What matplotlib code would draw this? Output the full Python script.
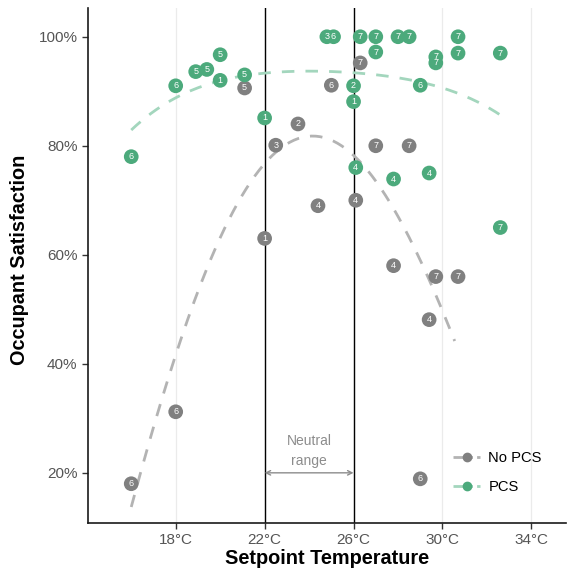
import numpy as np
import matplotlib
matplotlib.use("Agg")
import matplotlib.pyplot as plt
from matplotlib.lines import Line2D

plt.rcParams['font.family'] = ['Liberation Sans', 'DejaVu Sans']

# PCS (green) points
pcs_temp = [16.0, 18.0, 18.9, 19.4, 20.0, 20.0, 21.1, 22.0, 24.8, 25.1, 26.3, 27.0, 27.0,
            28.0, 28.5, 30.7, 30.7, 32.6, 29.7, 29.7, 29.0, 26.0, 26.0, 26.1, 27.8, 29.4, 32.6]
pcs_sat = [78.0, 91.0, 93.6, 94.0, 96.7, 92.0, 93.0, 85.1, 100.0, 100.0, 100.0, 100.0, 97.2,
           100.0, 100.0, 100.0, 97.0, 97.0, 96.3, 95.2, 91.1, 91.0, 88.1, 76.0, 73.9, 75.0, 65.0]
pcs_lab = ['6', '6', '5', '5', '5', '1', '5', '1', '3', '6', '7', '7', '7',
           '7', '7', '7', '7', '7', '7', '7', '6', '2', '1', '4', '4', '4', '7']

# No PCS (grey) points
nopcs_temp = [16.0, 18.0, 21.1, 22.5, 23.5, 22.0, 24.4, 26.1, 26.3, 25.0, 27.0, 28.5,
              27.8, 29.7, 30.7, 29.4, 29.0]
nopcs_sat = [18.0, 31.2, 90.6, 80.1, 84.0, 63.0, 69.0, 70.0, 95.2, 91.1, 80.0, 80.0,
             58.0, 56.0, 56.0, 48.1, 18.9]
nopcs_lab = ['6', '6', '5', '3', '2', '1', '4', '4', '7', '6', '7', '7',
             '4', '7', '7', '4', '6']

# Smoothed trend curves
nopcs_trend_temp = [16.0, 17.5, 20.4, 21.0, 21.9, 23.6, 24.6, 25.4, 26.0, 26.6, 27.4,
                    28.3, 29.0, 30.0, 30.55]
nopcs_trend_sat = [13.5, 35.8, 66.0, 70.5, 76.0, 82.0, 83.2, 80.8, 77.7, 74.0, 70.0,
                   65.0, 60.0, 51.0, 43.0]
pcs_trend_temp = [16.0, 16.8, 17.9, 18.9, 20.7, 22.1, 23.3, 23.9, 25.2, 27.2, 28.1,
                  30.0, 31.1, 32.6]
pcs_trend_sat = [83.1, 85.4, 88.4, 90.6, 92.7, 93.6, 93.6, 93.6, 93.2, 93.0, 92.7,
                 90.6, 88.8, 85.7]

x_ticks = [18, 22, 26, 30, 34]
x_ticklabels = ['18°C', '22°C', '26°C', '30°C', '34°C']
y_ticks = [20, 40, 60, 80, 100]
y_ticklabels = ['20%', '40%', '60%', '80%', '100%']
neutral_range = [22, 26]

green = '#4caa7c'
green_line = '#a3d6bd'
grey = '#808080'
grey_line = '#b3b3b3'


def smooth(tx, ty, deg=4, npts=150):
    c = np.polyfit(tx, ty, deg)
    xs = np.linspace(min(tx), max(tx), npts)
    return xs, np.polyval(c, xs)


fig = plt.figure(figsize=(5.67, 5.73), dpi=100)
ax = fig.add_axes([0.155, 0.0873, 0.843, 0.899])

for t in x_ticks:
    ax.axvline(t, color='#ebebeb', lw=0.9, zorder=0)
for t in neutral_range:
    ax.axvline(t, color='black', lw=1.0, zorder=1)

xx, yy = smooth(nopcs_trend_temp, nopcs_trend_sat)
ax.plot(xx, yy, color=grey_line, lw=2.0, dashes=(4.5, 4), zorder=2)
xx, yy = smooth(pcs_trend_temp, pcs_trend_sat)
ax.plot(xx, yy, color=green_line, lw=2.0, dashes=(4.5, 4), zorder=2)

ax.scatter(nopcs_temp, nopcs_sat, s=112, color=grey, edgecolors='none', zorder=3)
for t, s, l in zip(nopcs_temp, nopcs_sat, nopcs_lab):
    ax.text(t, s, l, color='white', fontsize=6.5, ha='center', va='center', zorder=4)
ax.scatter(pcs_temp, pcs_sat, s=112, color=green, edgecolors='none', zorder=5)
for t, s, l in zip(pcs_temp, pcs_sat, pcs_lab):
    ax.text(t, s, l, color='white', fontsize=6.5, ha='center', va='center', zorder=6)

ax.annotate('', xy=(neutral_range[0], 20), xytext=(neutral_range[1], 20),
            arrowprops=dict(arrowstyle='<->', color='#8c8c8c', lw=1.0,
                            shrinkA=0, shrinkB=0, mutation_scale=8), zorder=2)
ax.text(24, 25.8, 'Neutral', color='#8c8c8c', fontsize=10, ha='center', va='center')
ax.text(24, 22.1, 'range', color='#8c8c8c', fontsize=10, ha='center', va='center')

ax.set_xlim(14.05, 35.55)
ax.set_ylim(10.8, 105.3)
ax.set_xticks(x_ticks)
ax.set_xticklabels(x_ticklabels)
ax.set_yticks(y_ticks)
ax.set_yticklabels(y_ticklabels)
ax.tick_params(axis='both', labelsize=11, labelcolor='#555555', color='#333333',
               length=4, width=1.0)
for side in ['top', 'right']:
    ax.spines[side].set_visible(False)
for side in ['left', 'bottom']:
    ax.spines[side].set_linewidth(1.2)
    ax.spines[side].set_color('#1a1a1a')

ax.set_xlabel('Setpoint Temperature', fontsize=14.3, fontweight='bold', labelpad=1)
ax.set_ylabel('Occupant Satisfaction', fontsize=14.3, fontweight='bold')
ax.yaxis.set_label_coords(-0.124, 0.51)

handles = [Line2D([0], [0], color=grey_line, lw=2.0, dashes=(7, 1.5), marker='o',
                  markersize=6, markerfacecolor=grey, markeredgecolor=grey),
           Line2D([0], [0], color=green_line, lw=2.0, dashes=(7, 1.5), marker='o',
                  markersize=6, markerfacecolor=green, markeredgecolor=green)]
fig.legend(handles, ['No PCS', 'PCS'], loc='upper left',
           bbox_to_anchor=(453 / 567, 1 - 451 / 573), borderpad=0, borderaxespad=0,
           frameon=False, fontsize=10.6, handlelength=1.85, labelspacing=1.05,
           handletextpad=0.55)

fig.savefig('out.png', dpi=100)
